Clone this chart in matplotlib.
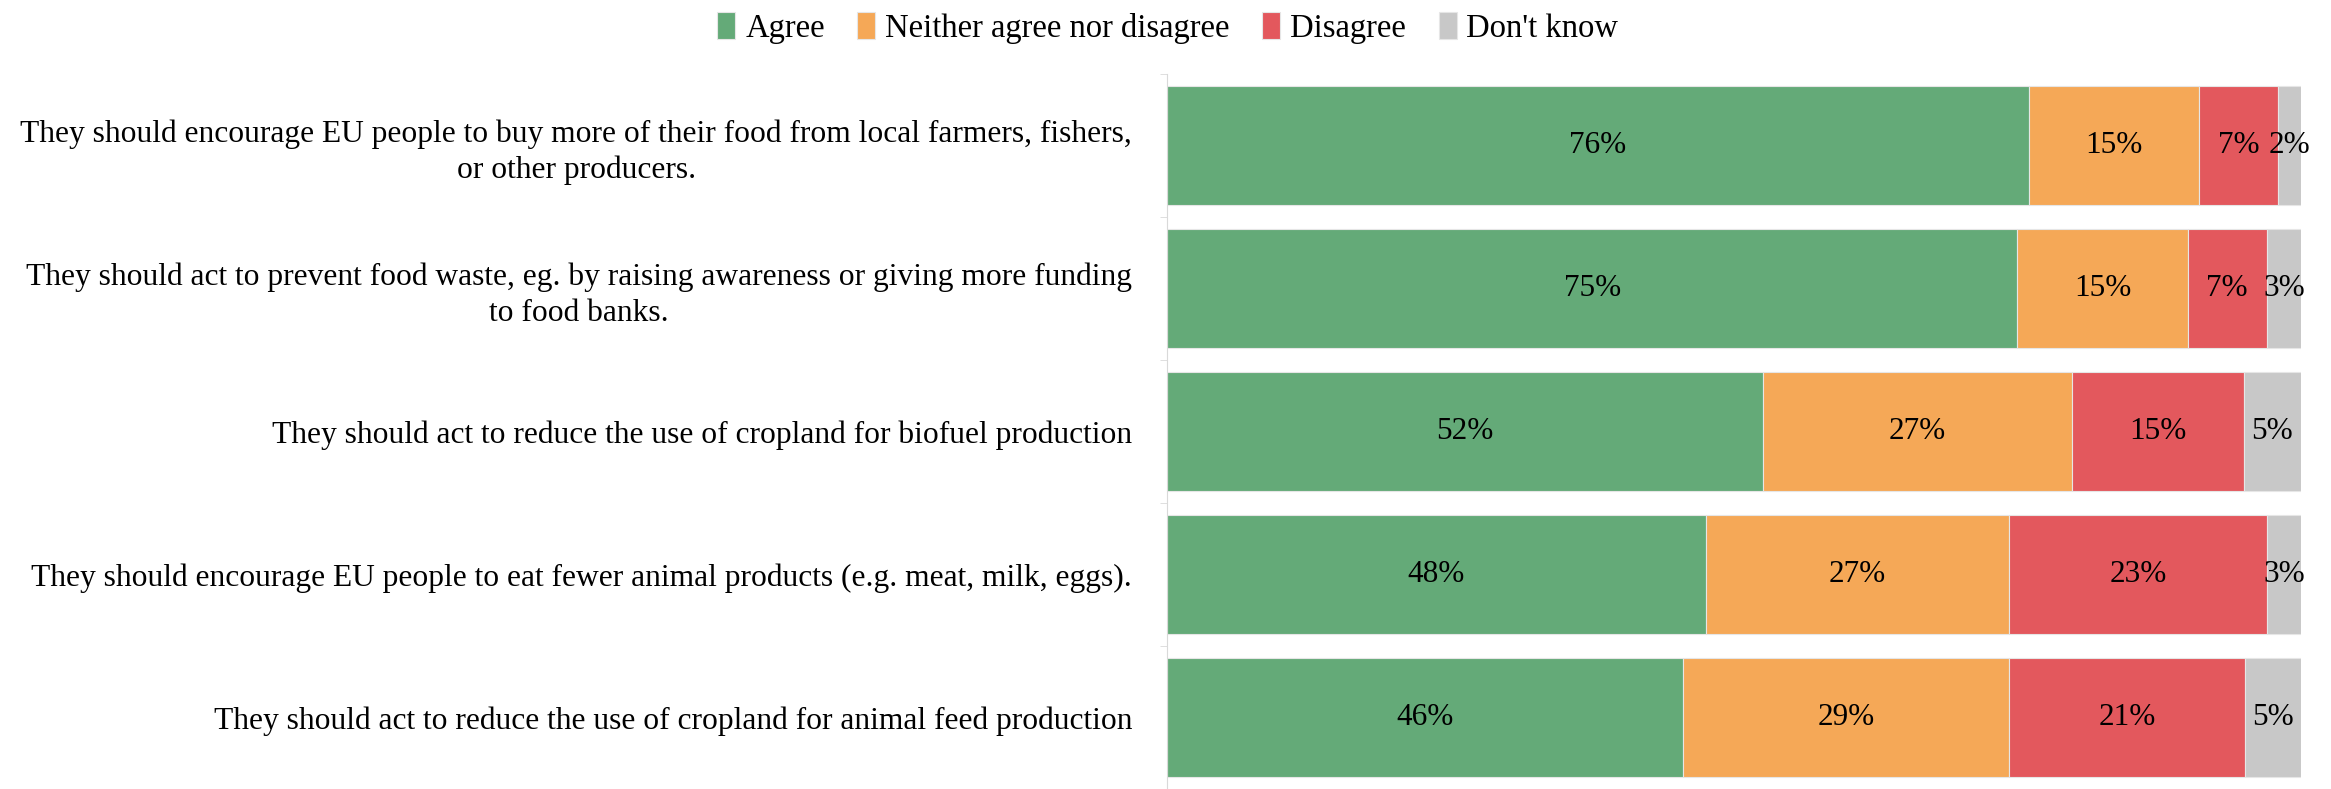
import numpy as np
import matplotlib
matplotlib.use('Agg')
import matplotlib.pyplot as plt

plt.rcParams['font.family'] = ['Liberation Serif', 'DejaVu Serif']

statements = [
    "They should encourage EU people to buy more of their food from local farmers, fishers,\nor other producers.",
    "They should act to prevent food waste, eg. by raising awareness or giving more funding\nto food banks.",
    "They should act to reduce the use of cropland for biofuel production",
    "They should encourage EU people to eat fewer animal products (e.g. meat, milk, eggs).",
    "They should act to reduce the use of cropland for animal feed production",
]
answers = ["Agree", "Neither agree nor disagree", "Disagree", "Don't know"]
agree = [76, 75, 52, 48, 46]
neither = [15, 15, 27, 27, 29]
disagree = [7, 7, 15, 23, 21]
dont_know = [2, 3, 5, 3, 5]
colors = ['#64aa78', '#f5a857', '#e3585d', '#c8c8c8']

values = np.array([agree, neither, disagree, dont_know], dtype=float)
# stacked to 100% (rounded shares don't always add up)
shares = values / values.sum(axis=0) * 100

fig = plt.figure(figsize=(23.31, 7.89), dpi=100)
ax = fig.add_axes([0.5006, 0.0, 0.4865, 0.906])

y = np.arange(len(statements))
left = np.zeros(len(statements))
for k in range(len(answers)):
    bars = ax.barh(y, shares[k], left=left, height=0.83, color=colors[k],
                   edgecolor='#e6e6e6', linewidth=0.8, label=answers[k])
    for i, b in enumerate(bars):
        ax.text(left[i] + shares[k][i] / 2, y[i], f"{values[k][i]:.0f}%",
                ha='center', va='center', fontsize=22.5, color='black')
    left += shares[k]

ax.set_xlim(0, 100)
ax.set_ylim(4.48, -0.5)
ax.set_yticks(y)
ax.set_yticklabels(statements, fontsize=22.7, multialignment='center', linespacing=1.3)
ax.tick_params(axis='y', which='major', length=0, pad=25)
ax.set_yticks(np.arange(-0.5, 5, 1), minor=True)
ax.tick_params(axis='y', which='minor', length=5, color='#d9d9d9')
ax.set_xticks([])
for s in ['top', 'right', 'bottom']:
    ax.spines[s].set_visible(False)
ax.spines['left'].set_color('#d9d9d9')

fig.legend(loc='upper center', bbox_to_anchor=(0.501, 1.022), ncol=4, frameon=False,
           fontsize=23.5, handlelength=0.55, handleheight=0.9, handletextpad=0.3,
           columnspacing=1.0)

fig.savefig('out.png', dpi=100)
